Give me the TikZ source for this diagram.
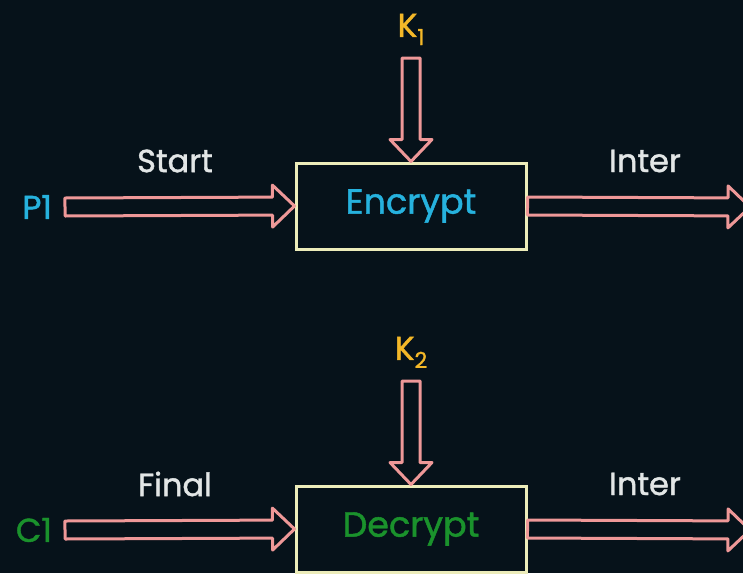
\documentclass[tikz,border=0pt]{standalone}
\usepackage{fontspec}
\setmainfont{Poppins}
\newfontfamily\medfont{Poppins}[FakeBold=1.3]
\usetikzlibrary{calc}

\definecolor{bgnavy}{RGB}{6,18,26}
\definecolor{arrowpink}{RGB}{238,152,152}
\definecolor{boxyellow}{RGB}{236,236,186}
\definecolor{txtcyan}{RGB}{38,178,222}
\definecolor{txtgreen}{RGB}{26,146,44}
\definecolor{keyorange}{RGB}{244,184,40}
\definecolor{lblwhite}{RGB}{226,230,230}

\def\fatshaft{4.5pt}
\def\fatwide{10.5pt}
\def\fathead{11pt}

\tikzset{
  block/.style={draw=boxyellow, line width=1.5pt, fill=bgnavy,
    minimum width=115pt, minimum height=43pt, inner sep=0pt,
    font=\medfont\fontsize{17.5}{20}\selectfont},
  lbl/.style={text=lblwhite, font=\medfont\fontsize{16}{18}\selectfont},
  keylbl/.style={text=keyorange, inner sep=0pt, outer sep=6.5pt,
    font=\medfont\fontsize{16.5}{19}\selectfont},
  srclbl/.style={inner sep=0pt, outer sep=6.5pt, font=\medfont\fontsize{16.5}{19}\selectfont},
  fat/.style={draw=arrowpink, line width=1.5pt, line join=round,
    to path={let \p1=(\tikztostart), \p2=(\tikztotarget),
      \n1={atan2(\y2-\y1,\x2-\x1)}, \n2={veclen(\x2-\x1,\y2-\y1)} in
      ($(\p1)+(\n1+90:\fatshaft)$)
      -- ($(\p1)+(\n1:\n2-\fathead)+(\n1+90:\fatshaft)$)
      -- ($(\p1)+(\n1:\n2-\fathead)+(\n1+90:\fatwide)$)
      -- (\p2)
      -- ($(\p1)+(\n1:\n2-\fathead)+(\n1-90:\fatwide)$)
      -- ($(\p1)+(\n1:\n2-\fathead)+(\n1-90:\fatshaft)$)
      -- ($(\p1)+(\n1-90:\fatshaft)$) -- cycle}}
}

\begin{document}
\begin{tikzpicture}[x=0.5pt, y=-0.5pt]

        % Background and page size
        \fill[bgnavy] (0,0) rectangle (743,573);
        \useasboundingbox (0,0) rectangle (743,573);
        \clip (0,0) rectangle (743,573);

        % Encryption stage (top)
        \begin{scope}[shift={(0,0)}]
          \node[block, text=txtcyan] (enc) at (411,206) {Encrypt};
          \node[keylbl, anchor=south] (k1) at (411,58) {K\raisebox{-0.45ex}{\fontsize{11}{12}\selectfont 1}};
          \node[srclbl, text=txtcyan, anchor=east] (p1) at (65,207) {P1};
          \coordinate (encout) at (750,207);
          \node[lbl] (lstart) at (175,161) {Start};
          \node[lbl] (linter1) at (645,161) {Inter};
          \draw[fat] (k1.south) to (enc.north);
          \draw[fat] (p1.east) to (enc.west);
          \draw[fat] (enc.east) to (encout);
        \end{scope}

        % Decryption stage (bottom)
        \begin{scope}[shift={(0,323)}]
          \node[block, text=txtgreen] (dec) at (411,206) {Decrypt};
          \node[keylbl, anchor=south] (k2) at (411,58) {K\raisebox{-0.45ex}{\fontsize{11}{12}\selectfont 2}};
          \node[srclbl, text=txtgreen, anchor=east] (c1) at (65,207) {C1};
          \coordinate (decout) at (750,207);
          \node[lbl] (lfinal) at (175,161) {Final};
          \node[lbl] (linter2) at (645,161) {Inter};
          \draw[fat] (k2.south) to (dec.north);
          \draw[fat] (c1.east) to (dec.west);
          \draw[fat] (dec.east) to (decout);
        \end{scope}

\end{tikzpicture}
\end{document}
